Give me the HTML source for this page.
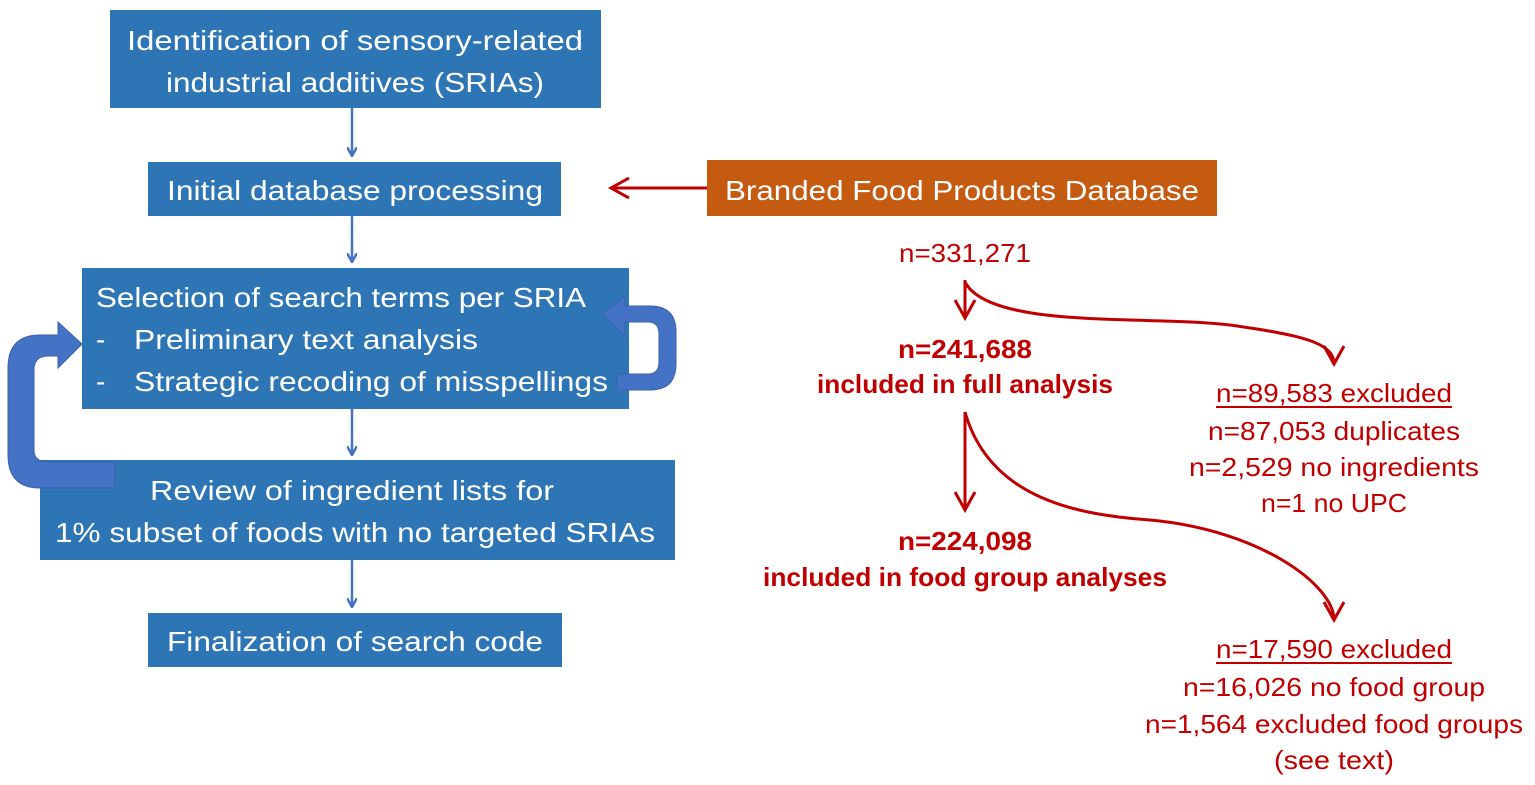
<!DOCTYPE html>
<html><head><style>body{margin:0;background:#fff}svg{display:block}</style></head><body>
<svg width="1535" height="785" viewBox="0 0 1535 785" xmlns="http://www.w3.org/2000/svg" font-family="Liberation Sans, sans-serif">
<defs>
<marker id="bh" markerWidth="10" markerHeight="10" refX="9" refY="5" orient="auto" markerUnits="userSpaceOnUse"><path d="M0,0 L9,5 L0,10" fill="none" stroke="#4472c4" stroke-width="2.5"/></marker>
<marker id="rh" markerWidth="24" markerHeight="24" refX="20" refY="12" orient="auto" markerUnits="userSpaceOnUse"><path d="M2,2 L20,12 L2,22" fill="none" stroke="#c00000" stroke-width="3"/></marker>
</defs>
<g fill="#2e75b6">
<rect x="110" y="10" width="491" height="98"/>
<rect x="148" y="162" width="413" height="54"/>
<rect x="82" y="268" width="547" height="141"/>
<rect x="40" y="460" width="635" height="100"/>
<rect x="148" y="613" width="414" height="54"/>
</g>
<rect x="707" y="160" width="510" height="56" fill="#c55a11"/>
<g fill="#fff" font-size="28">
<text x="355" y="50" text-anchor="middle" textLength="456" lengthAdjust="spacingAndGlyphs">Identification of sensory-related</text>
<text x="355" y="92" text-anchor="middle" textLength="378" lengthAdjust="spacingAndGlyphs">industrial additives (SRIAs)</text>
<text x="355" y="200" text-anchor="middle" textLength="376" lengthAdjust="spacingAndGlyphs">Initial database processing</text>
<text x="96" y="307" textLength="490" lengthAdjust="spacingAndGlyphs">Selection of search terms per SRIA</text>
<text x="96" y="349">-</text><text x="134" y="349" textLength="344" lengthAdjust="spacingAndGlyphs">Preliminary text analysis</text>
<text x="96" y="391">-</text><text x="134" y="391" textLength="474" lengthAdjust="spacingAndGlyphs">Strategic recoding of misspellings</text>
<text x="352" y="500" text-anchor="middle" textLength="404" lengthAdjust="spacingAndGlyphs">Review of ingredient lists for</text>
<text x="355" y="542" text-anchor="middle" textLength="600" lengthAdjust="spacingAndGlyphs">1% subset of foods with no targeted SRIAs</text>
<text x="355" y="651" text-anchor="middle" textLength="376" lengthAdjust="spacingAndGlyphs">Finalization of search code</text>
<text x="962" y="200" text-anchor="middle" textLength="474" lengthAdjust="spacingAndGlyphs">Branded Food Products Database</text>
</g>
<g stroke="#4472c4" stroke-width="2.5" fill="none">
<line x1="352" y1="108" x2="352" y2="156" marker-end="url(#bh)"/>
<line x1="352" y1="216" x2="352" y2="262" marker-end="url(#bh)"/>
<line x1="352" y1="409" x2="352" y2="455" marker-end="url(#bh)"/>
<line x1="352" y1="560" x2="352" y2="607" marker-end="url(#bh)"/>
</g>
<g fill="#4472c4" stroke="#3a62ad" stroke-width="1">
<path d="M115,462 L115,488 L40,488 Q8,488 8,455 L8,368 Q8,335 40,335 L58,335 L58,322 L82,344 L58,368 L58,356 L48,356 Q34,356 34,370 L34,450 Q34,462 48,462 Z"/>
<path d="M617,374 L617,390 L650,390 Q676,390 676,364 L676,332 Q676,306 650,306 L625,306 L625,296 L602,314 L625,336 L625,322 L648,322 Q659,322 659,334 L659,362 Q659,374 648,374 Z"/>
</g>
<g stroke="#c00000" stroke-width="3" fill="none">
<line x1="707" y1="188" x2="611" y2="188" marker-end="url(#rh)"/>
<line x1="965" y1="280" x2="965" y2="318" marker-end="url(#rh)"/>
<path d="M965,282 C990,330 1150,315 1230,325 C1300,335 1334,342 1334,364" marker-end="url(#rh)"/>
<line x1="965" y1="412" x2="965" y2="510" marker-end="url(#rh)"/>
<path d="M965,412 C990,500 1080,515 1150,520 C1260,530 1334,585 1334,620" marker-end="url(#rh)"/>
</g>
<g fill="#c00000" font-size="26" text-anchor="middle">
<text x="965" y="262" textLength="132" lengthAdjust="spacingAndGlyphs">n=331,271</text>
<text x="965" y="358" font-weight="bold" textLength="134" lengthAdjust="spacingAndGlyphs">n=241,688</text>
<text x="965" y="393" font-weight="bold" textLength="296" lengthAdjust="spacingAndGlyphs">included in full analysis</text>
<text x="965" y="550" font-weight="bold" textLength="134" lengthAdjust="spacingAndGlyphs">n=224,098</text>
<text x="965" y="586" font-weight="bold" textLength="404" lengthAdjust="spacingAndGlyphs">included in food group analyses</text>
<text x="1334" y="402" textLength="236" lengthAdjust="spacingAndGlyphs">n=89,583 excluded</text>
<text x="1334" y="440" textLength="252" lengthAdjust="spacingAndGlyphs">n=87,053 duplicates</text>
<text x="1334" y="476" textLength="290" lengthAdjust="spacingAndGlyphs">n=2,529 no ingredients</text>
<text x="1334" y="512" textLength="146" lengthAdjust="spacingAndGlyphs">n=1 no UPC</text>
<text x="1334" y="658" textLength="236" lengthAdjust="spacingAndGlyphs">n=17,590 excluded</text>
<text x="1334" y="696" textLength="302" lengthAdjust="spacingAndGlyphs">n=16,026 no food group</text>
<text x="1334" y="733" textLength="378" lengthAdjust="spacingAndGlyphs">n=1,564 excluded food groups</text>
<text x="1334" y="769" textLength="120" lengthAdjust="spacingAndGlyphs">(see text)</text>
</g>
<g stroke="#c00000" stroke-width="2">
<line x1="1216" y1="407" x2="1452" y2="407"/>
<line x1="1216" y1="663" x2="1452" y2="663"/>
</g>
</svg>
</body></html>
